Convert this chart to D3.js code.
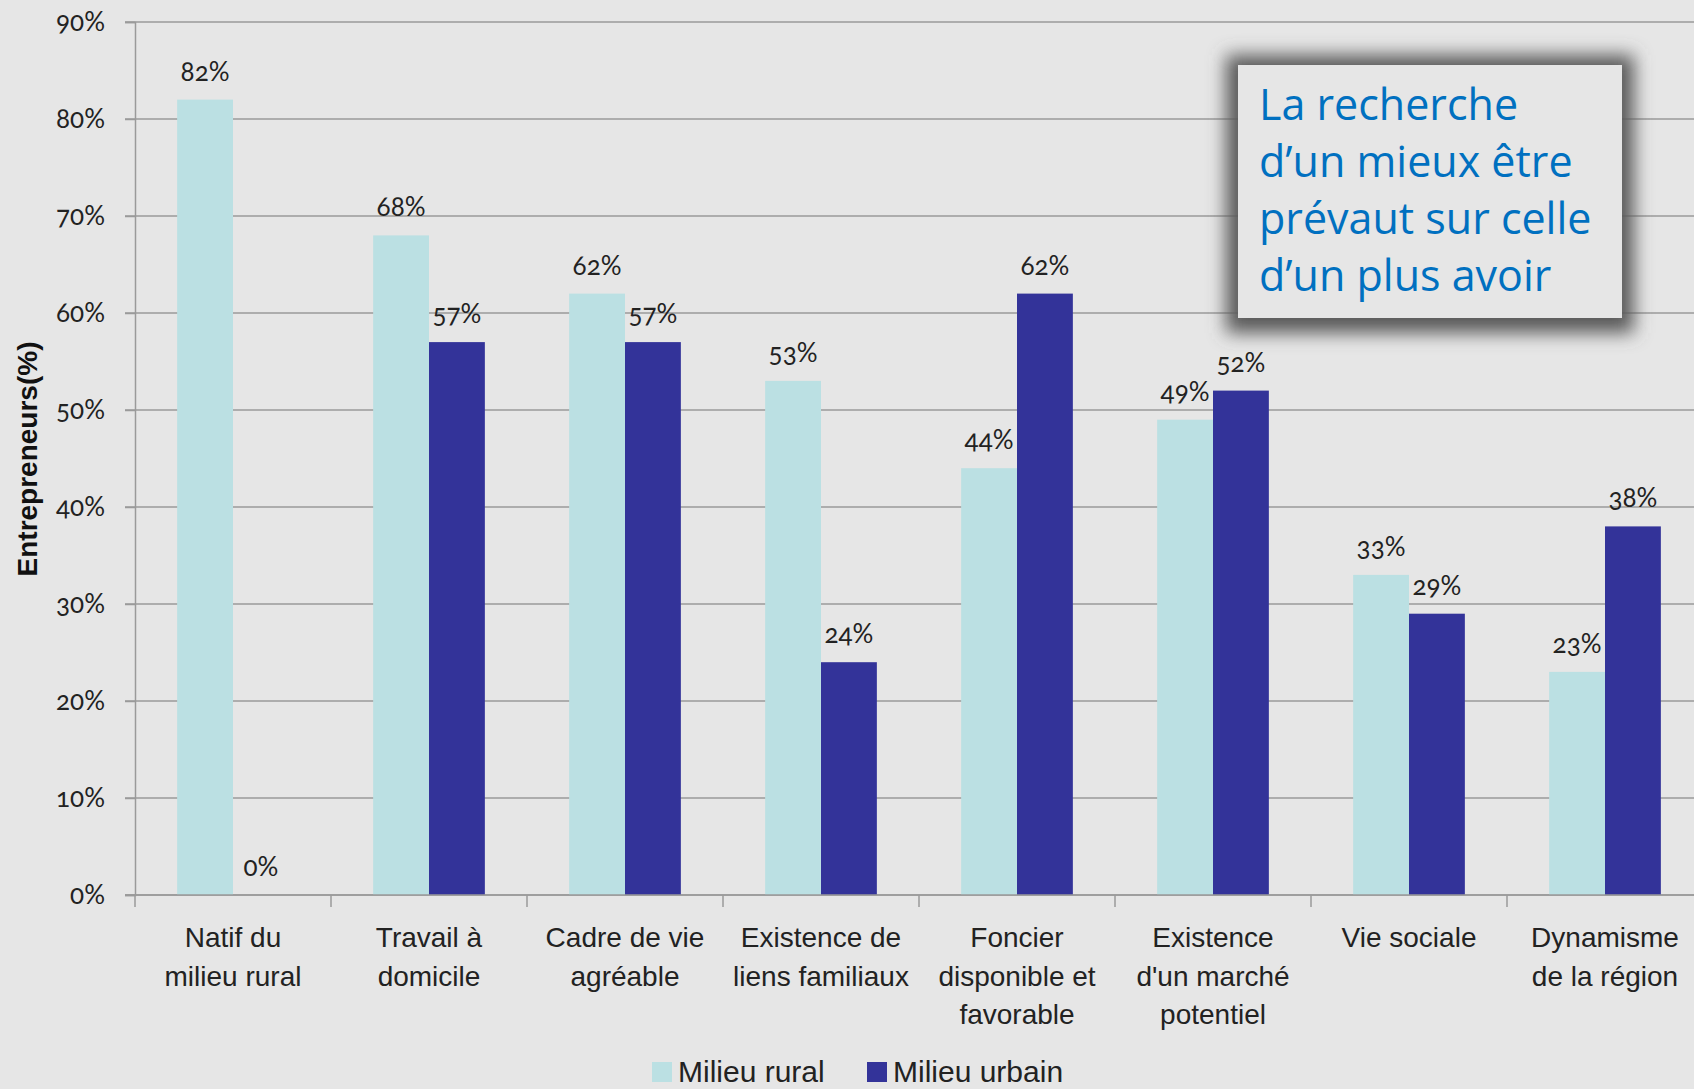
<!DOCTYPE html>
<html>
<head>
<meta charset="utf-8">
<script src="https://cdn.jsdelivr.net/npm/d3@7"></script>
<style>
  html, body { margin: 0; padding: 0; background: #e6e6e6; overflow: hidden; }
  svg { display: block; font-family: "Liberation Sans", Arial, sans-serif; }
</style>
</head>
<body>
<div id="chart"></div>
<script>
const categories = [
    ["Natif du", "milieu rural"],
    ["Travail à", "domicile"],
    ["Cadre de vie", "agréable"],
    ["Existence de", "liens familiaux"],
    ["Foncier", "disponible et", "favorable"],
    ["Existence", "d'un marché", "potentiel"],
    ["Vie sociale"],
    ["Dynamisme", "de la région"]
];
const seriesNames = ["Milieu rural", "Milieu urbain"];
const rural = [82, 68, 62, 53, 44, 49, 33, 23];
const urbain = [0, 57, 57, 24, 62, 52, 29, 38];
const yTicks = [0, 10, 20, 30, 40, 50, 60, 70, 80, 90];
const noteLines = ["La recherche", "d’un mieux être", "prévaut sur celle", "d’un plus avoir"];

const width = 1694, height = 1089;
const plotLeft = 135, plotTop = 22, plotBottom = 895;
const colors = ["#bbe0e3", "#333399"];

const svg = d3.select("#chart")
    .append("svg")
    .attr("width", width)
    .attr("height", height);

svg.append("rect").attr("width", width).attr("height", height).attr("fill", "#e6e6e6");

const rows = categories.map((c, i) => ({ label: c, values: [rural[i], urbain[i]] }));

const x0 = d3.scaleBand()
    .domain(d3.range(categories.length))
    .range([plotLeft, plotLeft + categories.length * 196]);

const x1 = d3.scaleBand()
    .domain([0, 1])
    .range([x0.bandwidth() * 0.215, x0.bandwidth() * 0.785]);

const y = d3.scaleLinear().domain([0, 90]).range([plotBottom, plotTop]);

// gridlines
svg.append("g")
    .selectAll("line")
    .data(yTicks)
    .join("line")
    .attr("x1", plotLeft - 10)
    .attr("x2", width)
    .attr("y1", d => y(d))
    .attr("y2", d => y(d))
    .attr("stroke", "#9a9a9a")
    .attr("stroke-width", 1.5);

// y axis
const yAxis = svg.append("g")
    .attr("transform", `translate(${plotLeft},0)`)
    .call(d3.axisLeft(y).tickValues(yTicks).tickFormat(d => d + "%").tickSize(10).tickPadding(20));
yAxis.select(".domain").attr("stroke", "#9a9a9a").attr("stroke-width", 1.5);
yAxis.selectAll(".tick line").attr("stroke", "#9a9a9a").attr("stroke-width", 1.5);
yAxis.selectAll(".tick text")
    .attr("font-size", 26)
    .attr("fill", "#222")
    .style("font-family", "Lato, 'Liberation Sans', sans-serif")
    .style("font-variant-numeric", "oldstyle-nums");

// category ticks under the x axis
svg.append("g")
    .selectAll("line")
    .data(d3.range(categories.length + 1))
    .join("line")
    .attr("x1", d => plotLeft + d * x0.step())
    .attr("x2", d => plotLeft + d * x0.step())
    .attr("y1", plotBottom)
    .attr("y2", plotBottom + 12)
    .attr("stroke", "#9a9a9a")
    .attr("stroke-width", 1.5);

// bars
const groups = svg.append("g")
    .selectAll("g")
    .data(rows)
    .join("g")
    .attr("transform", (d, i) => `translate(${x0(i)},0)`);

groups.selectAll("rect")
    .data(d => d.values)
    .join("rect")
    .attr("x", (d, j) => x1(j))
    .attr("width", x1.bandwidth())
    .attr("y", d => y(d))
    .attr("height", d => plotBottom - y(d))
    .attr("fill", (d, j) => colors[j]);

groups.selectAll("text.val")
    .data(d => d.values)
    .join("text")
    .attr("class", "val")
    .attr("x", (d, j) => x1(j) + x1.bandwidth() / 2)
    .attr("y", d => y(d) - 19)
    .attr("text-anchor", "middle")
    .attr("font-size", 26)
    .attr("fill", "#222")
    .style("font-family", "Lato, 'Liberation Sans', sans-serif")
    .style("font-variant-numeric", "oldstyle-nums")
    .text(d => d + "%");

// x axis line
svg.append("line")
    .attr("x1", plotLeft - 10).attr("x2", width)
    .attr("y1", plotBottom).attr("y2", plotBottom)
    .attr("stroke", "#9a9a9a").attr("stroke-width", 1.5);

// category labels
groups.append("text")
    .attr("x", x0.bandwidth() / 2)
    .attr("text-anchor", "middle")
    .attr("font-size", 28)
    .attr("fill", "#222")
    .selectAll("tspan")
    .data(d => d.label)
    .join("tspan")
    .attr("x", x0.bandwidth() / 2)
    .attr("y", (d, k) => 947 + k * 38.5)
    .text(d => d);

// y axis title
svg.append("text")
    .attr("transform", `translate(37,459) rotate(-90)`)
    .attr("text-anchor", "middle")
    .attr("font-size", 28)
    .attr("font-weight", "bold")
    .attr("fill", "#111")
    .text("Entrepreneurs(%)");

// legend
const legend = svg.append("g")
    .selectAll("g")
    .data(seriesNames)
    .join("g")
    .attr("transform", (d, i) => `translate(${[652, 867][i]},1062)`);
legend.append("rect").attr("width", 20).attr("height", 20).attr("fill", (d, i) => colors[i]);
legend.append("text")
    .attr("x", 26).attr("y", 20)
    .attr("font-size", 30)
    .attr("fill", "#222")
    .text(d => d);

// annotation box: blurred dark rect behind, plain box on top
const defs = svg.append("defs");
defs.append("filter").attr("id", "blur")
    .attr("x", "-30%").attr("y", "-40%").attr("width", "160%").attr("height", "180%")
    .append("feGaussianBlur").attr("stdDeviation", 9);

svg.append("rect")
    .attr("x", 1226).attr("y", 55)
    .attr("width", 408).attr("height", 278)
    .attr("fill", "#5a5a5a")
    .attr("filter", "url(#blur)");

svg.append("rect")
    .attr("x", 1238).attr("y", 65)
    .attr("width", 384).attr("height", 253)
    .attr("fill", "#e6e6e6");

svg.append("text")
    .attr("font-size", 43)
    .attr("fill", "#0070c0")
    .style("font-family", "'Open Sans', 'Liberation Sans', sans-serif")
    .selectAll("tspan")
    .data(noteLines)
    .join("tspan")
    .attr("x", 1259)
    .attr("y", (d, i) => 120 + i * 57)
    .text(d => d);
</script>
</body>
</html>
